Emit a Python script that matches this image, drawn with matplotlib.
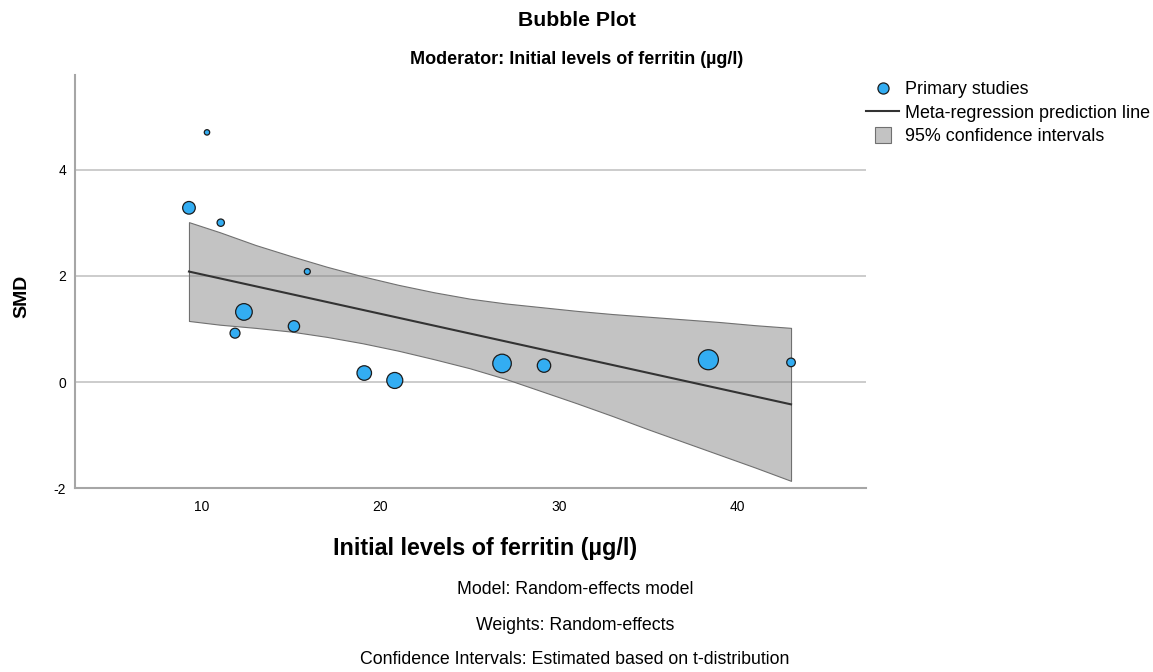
import numpy as np
import matplotlib
matplotlib.use('Agg')
import matplotlib.pyplot as plt
from matplotlib.lines import Line2D

plt.rcParams['font.family'] = ['Liberation Sans', 'DejaVu Sans']
plt.rcParams['axes.unicode_minus'] = False

# Primary studies: initial ferritin (ug/l), SMD and random-effects weight (%)
ferritin = [10.28, 9.27, 11.05, 15.90, 12.35, 11.85, 15.15, 19.09, 20.80, 26.81, 29.16, 38.37, 43.00]
smd = [4.70, 3.28, 3.00, 2.08, 1.32, 0.92, 1.05, 0.17, 0.03, 0.35, 0.31, 0.42, 0.37]
weight = [1.3, 7.1, 2.4, 1.6, 12.3, 4.4, 5.7, 9.4, 11.4, 15.3, 8.0, 17.8, 3.3]

# Meta-regression prediction line
line_x = [9.27, 43.0]
line_y = [2.08, -0.42]

# 95% confidence band around the prediction
ci_x = [9.27, 11, 13, 15, 17, 19, 21, 23, 25, 27, 29, 31, 33, 35, 37, 39, 41, 43]
ci_upper = [3.01, 2.82, 2.58, 2.37, 2.17, 1.99, 1.83, 1.69, 1.57, 1.48, 1.41,
            1.34, 1.28, 1.23, 1.18, 1.13, 1.07, 1.02]
ci_lower = [1.15, 1.08, 1.02, 0.95, 0.85, 0.73, 0.59, 0.43, 0.26, 0.06, -0.17,
            -0.40, -0.64, -0.89, -1.13, -1.37, -1.61, -1.86]

x_ticks = [10, 20, 30, 40]
y_ticks = [-2, 0, 2, 4]

W, H = 1153, 672
fig = plt.figure(figsize=(W / 100, H / 100), dpi=100)
ax = fig.add_axes([75 / W, 1 - 488.3 / H, (866 - 75) / W, (488.3 - 75) / H])

bubble_color = '#33adf2'
edge_color = '#1c1c1c'
band_edge = '#707070'

for y in [0, 2, 4]:
    ax.axhline(y, color='#c8c8c8', lw=1.3, zorder=1)

ax.fill_between(ci_x, ci_lower, ci_upper, facecolor=(0.5, 0.5, 0.5, 0.47),
                edgecolor=band_edge, lw=0.8, zorder=2)
ax.plot(line_x, line_y, color='#333333', lw=1.5, zorder=3)
ax.scatter(ferritin, smd, s=np.array(weight) * 11.65, c=bubble_color,
           edgecolors=edge_color, linewidths=0.9, zorder=4)

ax.set_xlim(2.885, 47.2)
ax.set_ylim(-2, 5.78)
ax.set_xticks(x_ticks)
ax.set_yticks(y_ticks)
ax.tick_params(length=0, labelsize=10)
ax.tick_params(axis='x', pad=8.5)
ax.tick_params(axis='y', pad=6.5)
for side in ['top', 'right']:
    ax.spines[side].set_visible(False)
for side in ['left', 'bottom']:
    ax.spines[side].set_color('#a6a6a6')
    ax.spines[side].set_linewidth(1.5)

# titles and axis labels
fig.text(0.5, 1 - 20 / H, 'Bubble Plot', fontsize=15.3, fontweight='bold',
         ha='center', va='center')
fig.text(0.5, 1 - 60 / H, 'Moderator: Initial levels of ferritin (µg/l)',
         fontsize=13, fontweight='bold', ha='center', va='center')
fig.text(22 / W, 1 - 296 / H, 'SMD', rotation=90, fontsize=14, fontweight='bold',
         ha='center', va='center')
fig.text(485 / W, 1 - 548 / H, 'Initial levels of ferritin (µg/l)', fontsize=16.8,
         fontweight='bold', ha='center', va='center')

notes = ['Model: Random-effects model',
         'Weights: Random-effects',
         'Confidence Intervals: Estimated based on t-distribution']
for i, note in enumerate(notes):
    fig.text(575 / W, 1 - (590 + 35 * i) / H, note, fontsize=12.8,
             ha='center', va='center')

handles = [
    Line2D([], [], marker='o', ls='none', markerfacecolor=bubble_color,
           markeredgecolor=edge_color, markersize=8, markeredgewidth=0.9),
    Line2D([], [], color='#333333', lw=1.5),
    Line2D([], [], marker='s', ls='none', markerfacecolor='#c3c3c3',
           markeredgecolor=band_edge, markersize=12, markeredgewidth=0.8),
]
labels = ['Primary studies', 'Meta-regression prediction line', '95% confidence intervals']
fig.legend(handles, labels, loc='upper left', bbox_to_anchor=(866 / W, 1 - 81 / H),
           frameon=False, fontsize=12.9, handlelength=1.85, handletextpad=0.33,
           labelspacing=0.37, borderpad=0, borderaxespad=0)

fig.savefig('out.png', dpi=100)
